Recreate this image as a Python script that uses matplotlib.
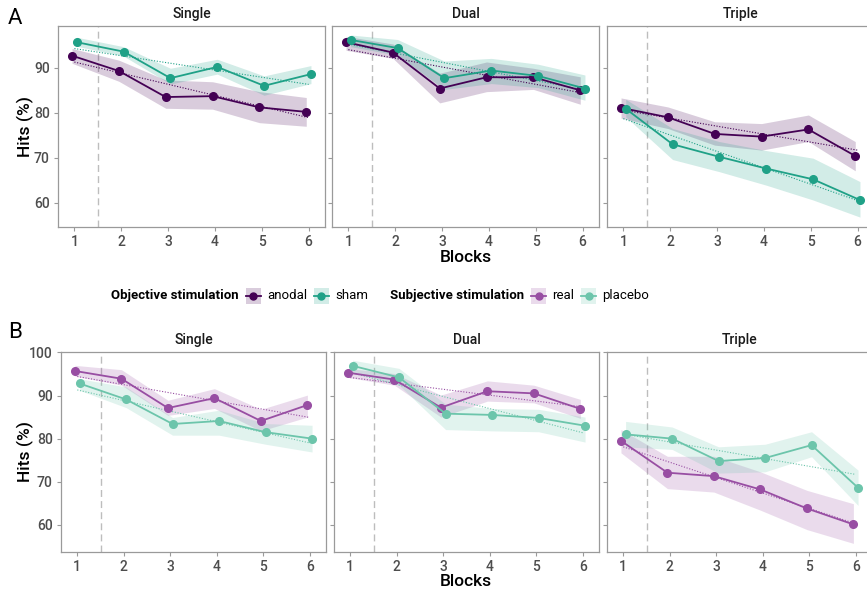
import numpy as np
import matplotlib
matplotlib.use("Agg")
import matplotlib.pyplot as plt
from matplotlib.patches import Rectangle
from matplotlib.lines import Line2D

plt.rcParams['font.family'] = ['Roboto', 'DejaVu Sans']

blocks = np.array([1, 2, 3, 4, 5, 6])
tasks = ["Single", "Dual", "Triple"]

# panel A: objective stimulation
anodal_mean = {"Single": [92.7, 89.3, 83.5, 83.7, 81.2, 80.2],
               "Dual":   [95.7, 93.4, 85.4, 87.9, 87.9, 85.0],
               "Triple": [81.1, 79.0, 75.3, 74.7, 76.3, 70.4]}
anodal_lo = {"Single": [91.0, 87.0, 81.0, 80.8, 77.8, 77.0],
             "Dual":   [93.9, 92.1, 82.2, 84.7, 85.2, 81.9],
             "Triple": [78.8, 76.5, 72.8, 71.7, 73.6, 67.1]}
anodal_hi = {"Single": [94.3, 91.7, 87.3, 86.9, 84.7, 83.4],
             "Dual":   [97.0, 95.3, 88.8, 91.3, 89.9, 88.0],
             "Triple": [83.3, 81.3, 78.0, 77.6, 79.5, 73.6]}
sham_mean = {"Single": [95.7, 93.6, 87.7, 90.2, 86.0, 88.6],
             "Dual":   [96.2, 94.4, 87.7, 89.4, 88.2, 85.4],
             "Triple": [80.9, 73.0, 70.2, 67.6, 65.2, 60.6]}
sham_lo = {"Single": [94.8, 92.6, 86.4, 88.6, 83.9, 86.5],
           "Dual":   [94.7, 92.8, 85.2, 86.5, 85.6, 82.8],
           "Triple": [79.1, 69.6, 66.9, 63.9, 60.6, 56.8]}
sham_hi = {"Single": [96.8, 94.7, 89.9, 91.9, 88.2, 90.5],
           "Dual":   [97.3, 96.3, 91.5, 92.1, 90.8, 88.4],
           "Triple": [83.0, 76.5, 73.6, 71.6, 69.9, 64.7]}

# panel B: subjective stimulation
real_mean = {"Single": [95.7, 93.9, 87.1, 89.4, 84.1, 87.8],
             "Dual":   [95.3, 93.7, 87.2, 91.0, 90.5, 86.9],
             "Triple": [79.5, 72.1, 71.3, 68.2, 63.8, 60.1]}
real_lo = {"Single": [94.5, 92.4, 85.4, 87.0, 81.8, 85.0],
           "Dual":   [94.2, 92.4, 85.0, 88.7, 88.3, 84.7],
           "Triple": [76.7, 68.4, 67.6, 63.4, 58.9, 55.7]}
real_hi = {"Single": [97.0, 96.0, 88.9, 91.6, 86.8, 90.1],
           "Dual":   [96.3, 95.1, 90.1, 93.4, 92.4, 89.1],
           "Triple": [82.1, 75.9, 75.9, 72.3, 68.0, 64.9]}
placebo_mean = {"Single": [92.8, 89.1, 83.4, 84.1, 81.5, 80.0],
                "Dual":   [96.9, 94.2, 85.8, 85.5, 84.8, 83.0],
                "Triple": [81.0, 80.0, 74.8, 75.5, 78.5, 68.6]}
placebo_lo = {"Single": [91.2, 87.2, 80.8, 80.8, 78.7, 76.9],
              "Dual":   [95.5, 92.4, 82.1, 81.8, 81.6, 79.2],
              "Triple": [78.1, 77.5, 72.0, 72.3, 75.8, 64.5]}
placebo_hi = {"Single": [93.9, 92.0, 84.9, 86.6, 83.5, 83.1],
              "Dual":   [98.2, 96.3, 88.0, 87.0, 86.8, 85.0],
              "Triple": [84.0, 82.7, 78.1, 78.7, 81.6, 72.7]}

W, H = 867, 591
fig = plt.figure(figsize=(W / 100, H / 100), dpi=100)

def box(x0, y0, x1, y1):
    # pixel box (top-left origin) -> figure fraction rect
    return [x0 / W, 1 - y1 / H, (x1 - x0) / W, (y1 - y0) / H]

frame_col = "#9a9a9a"
tick_col = "#4d4d4d"

def draw_row(lefts, width, top, bottom, groups, ylim, yticks):
    axes = []
    for i, task in enumerate(tasks):
        ax = fig.add_axes(box(lefts[i], top, lefts[i] + width, bottom))
        ax.axvline(1.5, color="#bdbdbd", lw=1.0, ls=(0, (5, 3)), zorder=1)
        for name, mean, lo, hi, col, off in groups:
            m = np.array(mean[task])
            xs = blocks + off
            ax.fill_between(xs, lo[task], hi[task], color=col, alpha=0.2, lw=0, zorder=2)
            k, b = np.polyfit(blocks, m, 1)
            ax.plot(blocks, k * blocks + b, color=col, lw=0.8, ls=(0, (1, 1.5)), zorder=3)
            ax.plot(xs, m, color=col, lw=1.3, marker="o", ms=5.5, zorder=4)
        ax.set_xlim(0.65, 6.35)
        ax.set_ylim(*ylim)
        ax.set_xticks(blocks)
        ax.set_yticks(yticks)
        for s in ax.spines.values():
            s.set_color(frame_col)
            s.set_linewidth(0.9)
        ax.tick_params(colors=frame_col, labelcolor=tick_col, labelsize=10,
                       length=3, width=0.8, pad=3)
        for lab in ax.get_xticklabels() + ax.get_yticklabels():
            lab.set_fontweight("medium")
        if i > 0:
            ax.tick_params(labelleft=False)
        ax.text(0.5, 1.025, task, transform=ax.transAxes, ha="center", va="bottom",
                fontsize=10, fontweight="medium", color="#1a1a1a")
        axes.append(ax)
    fig.text(25 / W, 1 - (top + bottom) / 2 / H, "Hits (%)", rotation=90,
             ha="center", va="center", fontsize=12.5, fontweight="medium")
    return axes

c_anodal, c_sham = "#440154", "#1fa187"
c_real, c_placebo = "#984ea3", "#6cc5ab"

top_groups = [("anodal", anodal_mean, anodal_lo, anodal_hi, c_anodal, -0.05),
              ("sham", sham_mean, sham_lo, sham_hi, c_sham, 0.05)]
bot_groups = [("real", real_mean, real_lo, real_hi, c_real, -0.05),
              ("placebo", placebo_mean, placebo_lo, placebo_hi, c_placebo, 0.05)]

draw_row([58, 332, 607], 267, 26, 227, top_groups, (54.6, 99.3), [60, 70, 80, 90])
draw_row([61, 334, 607], 265, 352, 552, bot_groups, (53.7, 100.1), [60, 70, 80, 90, 100])

fig.text(466 / W, 1 - 257 / H, "Blocks", ha="center", va="center", fontsize=12.5,
         fontweight="medium")
fig.text(466 / W, 1 - 581 / H, "Blocks", ha="center", va="center", fontsize=12.5,
         fontweight="medium")
fig.text(8 / W, 1 - 18 / H, "A", ha="left", va="center", fontsize=16)
fig.text(8 / W, 1 - 333 / H, "B", ha="left", va="center", fontsize=16)

# legend row, laid out left to right then centred
ly = 1 - 295.5 / H
renderer = fig.canvas.get_renderer()
items = [("title", "Objective stimulation", None), ("key", "anodal", c_anodal),
         ("key", "sham", c_sham), ("gap", None, None),
         ("title", "Subjective stimulation", None), ("key", "real", c_real),
         ("key", "placebo", c_placebo)]
artists = []
x = 0.0
for kind, label, col in items:
    if kind == "gap":
        x += 22
        continue
    if kind == "key":
        x += 7
        artists.append(("key", x, col))
        x += 21
    t = fig.text(0, ly, label, ha="left", va="center", fontsize=9.5,
                 fontweight="bold" if kind == "title" else "normal")
    w = t.get_window_extent(renderer).width
    artists.append(("text", x, t))
    x += w
x0 = 380 - x / 2
for kind, xp, obj in artists:
    if kind == "text":
        obj.set_x((x0 + xp) / W)
    else:
        kx = x0 + xp
        fig.patches.append(Rectangle((kx / W, ly - 8 / H), 15 / W, 16 / H,
                                     transform=fig.transFigure, facecolor=obj,
                                     alpha=0.2, lw=0))
        fig.lines.append(Line2D([kx / W, (kx + 15) / W], [ly, ly],
                                transform=fig.transFigure, color=obj, lw=1.3))
        fig.lines.append(Line2D([(kx + 7.5) / W], [ly], transform=fig.transFigure,
                                color=obj, marker="o", ms=5))

fig.savefig("out.png", dpi=100)
